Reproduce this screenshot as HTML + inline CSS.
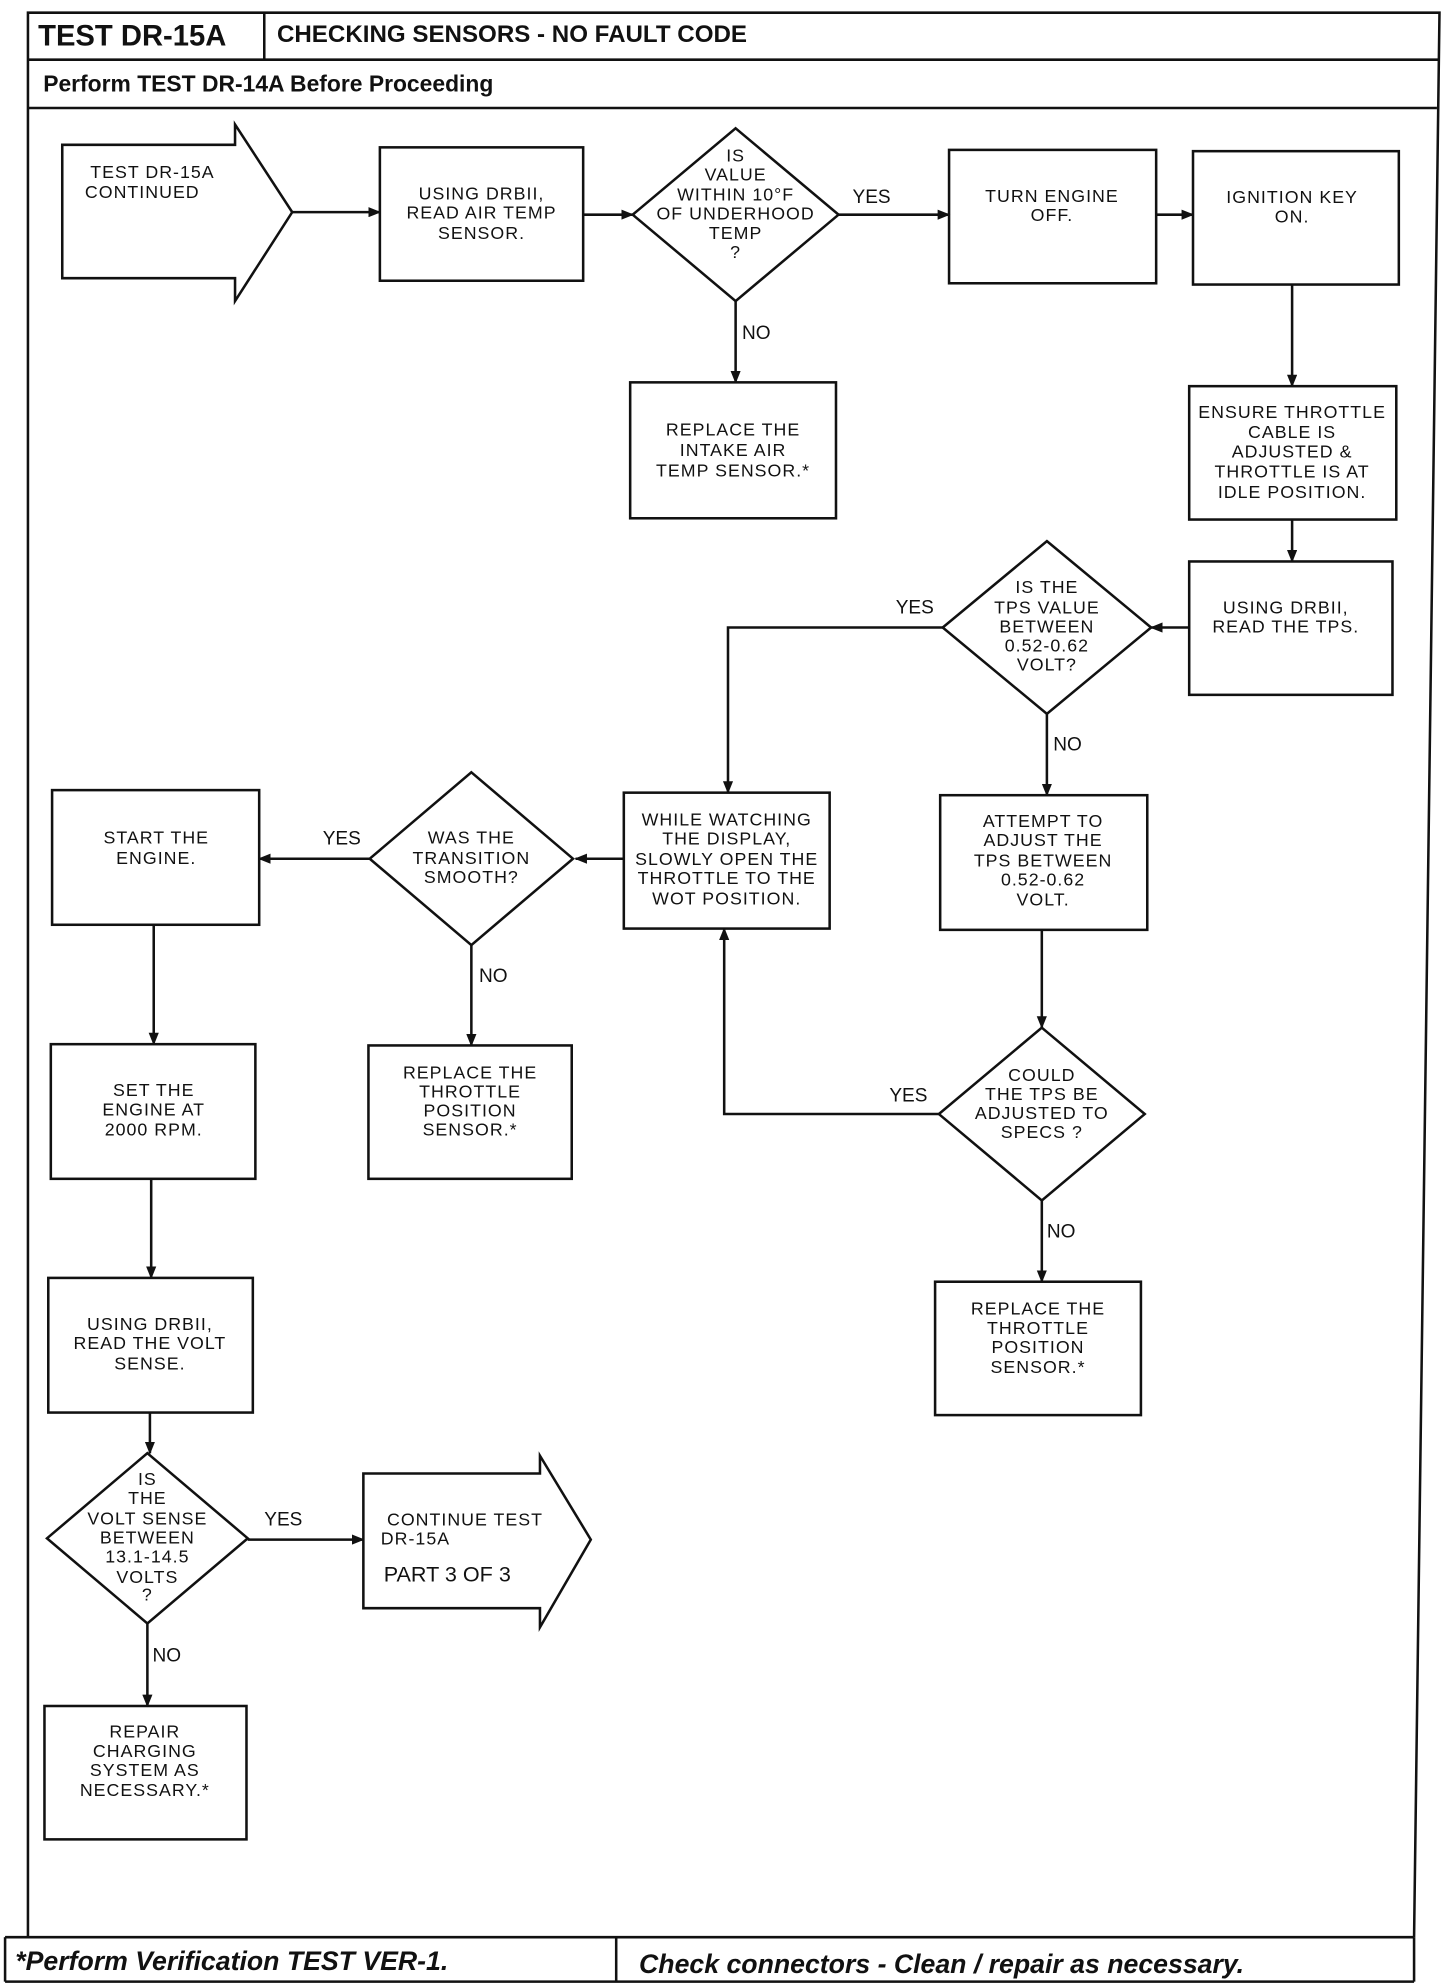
<!DOCTYPE html>
<html><head><meta charset="utf-8"><style>
html,body{margin:0;padding:0;background:#fff;}
svg{display:block;}
.t{font-family:"Liberation Sans",sans-serif;font-size:14px;letter-spacing:0.8px;text-anchor:middle;fill:#111;}
.l{font-family:"Liberation Sans",sans-serif;font-size:15px;fill:#111;}
.s{fill:none;stroke:#111;stroke-width:2;}
</style></head><body>
<svg width="1456" height="1988" viewBox="0 0 1146 1565" preserveAspectRatio="none" xmlns="http://www.w3.org/2000/svg">
<defs><marker id="a" markerWidth="10" markerHeight="8" refX="9" refY="4" orient="auto" markerUnits="userSpaceOnUse"><path d="M0,0 L10,4 L0,8 z" fill="#111"/></marker></defs>
<rect x="0" y="0" width="1146" height="1565" fill="#fff"/>
<!-- frame -->
<polyline points="22,1525 22,10 1133,10 1113,1525" class="s"/>
<line x1="208" y1="10" x2="208" y2="47" class="s"/>
<line x1="22" y1="47" x2="1132" y2="47" class="s"/>
<line x1="22" y1="85" x2="1131" y2="85" class="s"/>
<line x1="4" y1="1525" x2="1113" y2="1525" class="s"/>
<line x1="4" y1="1525" x2="4" y2="1560" class="s"/>
<line x1="4" y1="1560" x2="1113" y2="1560" class="s"/>
<line x1="1113" y1="1525" x2="1113" y2="1560" class="s"/>
<line x1="485" y1="1525" x2="485" y2="1560" class="s"/>
<text x="30" y="36" font-family="Liberation Sans" font-weight="bold" font-size="23" fill="#111">TEST DR-15A</text>
<text x="218" y="33" font-family="Liberation Sans" font-weight="bold" font-size="19" fill="#111">CHECKING SENSORS - NO FAULT CODE</text>
<text x="34" y="72" font-family="Liberation Sans" font-weight="bold" font-size="18" fill="#111">Perform TEST DR-14A Before Proceeding</text>
<text x="12" y="1551" font-family="Liberation Sans" font-weight="bold" font-style="italic" font-size="21" fill="#111">*Perform Verification TEST VER-1.</text>
<text x="503" y="1553" font-family="Liberation Sans" font-weight="bold" font-style="italic" font-size="21" fill="#111">Check connectors - Clean / repair as necessary.</text>

<path d="M49,114 H185 V98 L230,167 L185,237 V219 H49 Z" class="s"/>
<text class="t"><tspan x="120" y="140">TEST DR-15A</tspan><tspan x="112" y="156">CONTINUED</tspan></text>
<line x1="230" y1="167" x2="299" y2="167" class="s" marker-end="url(#a)"/>

<rect x="299" y="116" width="160" height="105" class="s"/>
<text class="t"><tspan x="379" y="157">USING DRBII,</tspan><tspan x="379" y="172">READ AIR TEMP</tspan><tspan x="379" y="188">SENSOR.</tspan></text>
<line x1="459" y1="169" x2="498" y2="169" class="s" marker-end="url(#a)"/>

<path d="M579,101 L660,169 L579,237 L498,169 Z" class="s"/>
<text class="t"><tspan x="579" y="127">IS</tspan><tspan x="579" y="142">VALUE</tspan><tspan x="579" y="158">WITHIN 10°F</tspan><tspan x="579" y="173">OF UNDERHOOD</tspan><tspan x="579" y="188">TEMP</tspan><tspan x="579" y="203">?</tspan></text>
<text class="l" x="671" y="160">YES</text>
<line x1="660" y1="169" x2="747" y2="169" class="s" marker-end="url(#a)"/>

<rect x="747" y="118" width="163" height="105" class="s"/>
<text class="t"><tspan x="828" y="159">TURN ENGINE</tspan><tspan x="828" y="174">OFF.</tspan></text>
<line x1="910" y1="169" x2="939" y2="169" class="s" marker-end="url(#a)"/>

<rect x="939" y="119" width="162" height="105" class="s"/>
<text class="t"><tspan x="1017" y="160">IGNITION KEY</tspan><tspan x="1017" y="175">ON.</tspan></text>

<text class="l" x="584" y="267">NO</text>
<line x1="579" y1="237" x2="579" y2="301" class="s" marker-end="url(#a)"/>
<rect x="496" y="301" width="162" height="107" class="s"/>
<text class="t"><tspan x="577" y="343">REPLACE THE</tspan><tspan x="577" y="359">INTAKE AIR</tspan><tspan x="577" y="375">TEMP SENSOR.*</tspan></text>

<line x1="1017" y1="224" x2="1017" y2="304" class="s" marker-end="url(#a)"/>
<rect x="936" y="304" width="163" height="105" class="s"/>
<text class="t"><tspan x="1017" y="329">ENSURE THROTTLE</tspan><tspan x="1017" y="345">CABLE IS</tspan><tspan x="1017" y="360">ADJUSTED &amp;</tspan><tspan x="1017" y="376">THROTTLE IS AT</tspan><tspan x="1017" y="392">IDLE POSITION.</tspan></text>
<line x1="1017" y1="409" x2="1017" y2="442" class="s" marker-end="url(#a)"/>

<rect x="936" y="442" width="160" height="105" class="s"/>
<text class="t"><tspan x="1012" y="483">USING DRBII,</tspan><tspan x="1012" y="498">READ THE TPS.</tspan></text>
<line x1="936" y1="494" x2="906" y2="494" class="s" marker-end="url(#a)"/>

<path d="M824,426 L906,494 L824,562 L742,494 Z" class="s"/>
<text class="t"><tspan x="824" y="467">IS THE</tspan><tspan x="824" y="483">TPS VALUE</tspan><tspan x="824" y="498">BETWEEN</tspan><tspan x="824" y="513">0.52-0.62</tspan><tspan x="824" y="528">VOLT?</tspan></text>
<text class="l" x="705" y="483">YES</text>
<polyline points="742,494 573,494 573,624" class="s" marker-end="url(#a)"/>
<text class="l" x="829" y="591">NO</text>
<line x1="824" y1="562" x2="824" y2="626" class="s" marker-end="url(#a)"/>

<rect x="491" y="624" width="162" height="107" class="s"/>
<text class="t"><tspan x="572" y="650">WHILE WATCHING</tspan><tspan x="572" y="665">THE DISPLAY,</tspan><tspan x="572" y="681">SLOWLY OPEN THE</tspan><tspan x="572" y="696">THROTTLE TO THE</tspan><tspan x="572" y="712">WOT POSITION.</tspan></text>

<rect x="740" y="626" width="163" height="106" class="s"/>
<text class="t"><tspan x="821" y="651">ATTEMPT TO</tspan><tspan x="821" y="666">ADJUST THE</tspan><tspan x="821" y="682">TPS BETWEEN</tspan><tspan x="821" y="697">0.52-0.62</tspan><tspan x="821" y="713">VOLT.</tspan></text>

<line x1="491" y1="676" x2="453" y2="676" class="s" marker-end="url(#a)"/>
<path d="M371,608 L451,676 L371,744 L291,676 Z" class="s"/>
<text class="t"><tspan x="371" y="664">WAS THE</tspan><tspan x="371" y="680">TRANSITION</tspan><tspan x="371" y="695">SMOOTH?</tspan></text>
<text class="l" x="254" y="665">YES</text>
<line x1="291" y1="676" x2="204" y2="676" class="s" marker-end="url(#a)"/>

<rect x="41" y="622" width="163" height="106" class="s"/>
<text class="t"><tspan x="123" y="664">START THE</tspan><tspan x="123" y="680">ENGINE.</tspan></text>

<text class="l" x="377" y="773">NO</text>
<line x1="371" y1="744" x2="371" y2="823" class="s" marker-end="url(#a)"/>
<rect x="290" y="823" width="160" height="105" class="s"/>
<text class="t"><tspan x="370" y="849">REPLACE THE</tspan><tspan x="370" y="864">THROTTLE</tspan><tspan x="370" y="879">POSITION</tspan><tspan x="370" y="894">SENSOR.*</tspan></text>

<line x1="121" y1="728" x2="121" y2="822" class="s" marker-end="url(#a)"/>
<rect x="40" y="822" width="161" height="106" class="s"/>
<text class="t"><tspan x="121" y="863">SET THE</tspan><tspan x="121" y="878">ENGINE AT</tspan><tspan x="121" y="894">2000 RPM.</tspan></text>

<line x1="820" y1="732" x2="820" y2="809" class="s" marker-end="url(#a)"/>
<path d="M820,809 L901,877 L820,945 L739,877 Z" class="s"/>
<text class="t"><tspan x="820" y="851">COULD</tspan><tspan x="820" y="866">THE TPS BE</tspan><tspan x="820" y="881">ADJUSTED TO</tspan><tspan x="820" y="896">SPECS ?</tspan></text>
<text class="l" x="700" y="867">YES</text>
<polyline points="739,877 570,877 570,731" class="s" marker-end="url(#a)"/>
<text class="l" x="824" y="974">NO</text>
<line x1="820" y1="945" x2="820" y2="1009" class="s" marker-end="url(#a)"/>
<rect x="736" y="1009" width="162" height="105" class="s"/>
<text class="t"><tspan x="817" y="1035">REPLACE THE</tspan><tspan x="817" y="1050">THROTTLE</tspan><tspan x="817" y="1065">POSITION</tspan><tspan x="817" y="1081">SENSOR.*</tspan></text>

<line x1="119" y1="928" x2="119" y2="1006" class="s" marker-end="url(#a)"/>
<rect x="38" y="1006" width="161" height="106" class="s"/>
<text class="t"><tspan x="118" y="1047">USING DRBII,</tspan><tspan x="118" y="1062">READ THE VOLT</tspan><tspan x="118" y="1078">SENSE.</tspan></text>
<line x1="118" y1="1112" x2="118" y2="1144" class="s" marker-end="url(#a)"/>

<path d="M116,1144 L195,1211 L116,1278 L37,1211 Z" class="s"/>
<text class="t"><tspan x="116" y="1169">IS</tspan><tspan x="116" y="1184">THE</tspan><tspan x="116" y="1200">VOLT SENSE</tspan><tspan x="116" y="1215">BETWEEN</tspan><tspan x="116" y="1230">13.1-14.5</tspan><tspan x="116" y="1246">VOLTS</tspan><tspan x="116" y="1260">?</tspan></text>
<text class="l" x="208" y="1201">YES</text>
<line x1="195" y1="1212" x2="286" y2="1212" class="s" marker-end="url(#a)"/>

<path d="M286,1160 H425 V1146 L465,1212 L425,1281 V1266 H286 Z" class="s"/>
<text class="t"><tspan x="366" y="1201">CONTINUE TEST</tspan><tspan x="327" y="1216">DR-15A</tspan></text>
<text x="302" y="1245" font-family="Liberation Sans" font-size="17" fill="#111">PART   3 OF 3</text>

<text class="l" x="120" y="1308">NO</text>
<line x1="116" y1="1278" x2="116" y2="1343" class="s" marker-end="url(#a)"/>
<rect x="35" y="1343" width="159" height="105" class="s"/>
<text class="t"><tspan x="114" y="1368">REPAIR</tspan><tspan x="114" y="1383">CHARGING</tspan><tspan x="114" y="1398">SYSTEM AS</tspan><tspan x="114" y="1414">NECESSARY.*</tspan></text>
</svg>
</body></html>
